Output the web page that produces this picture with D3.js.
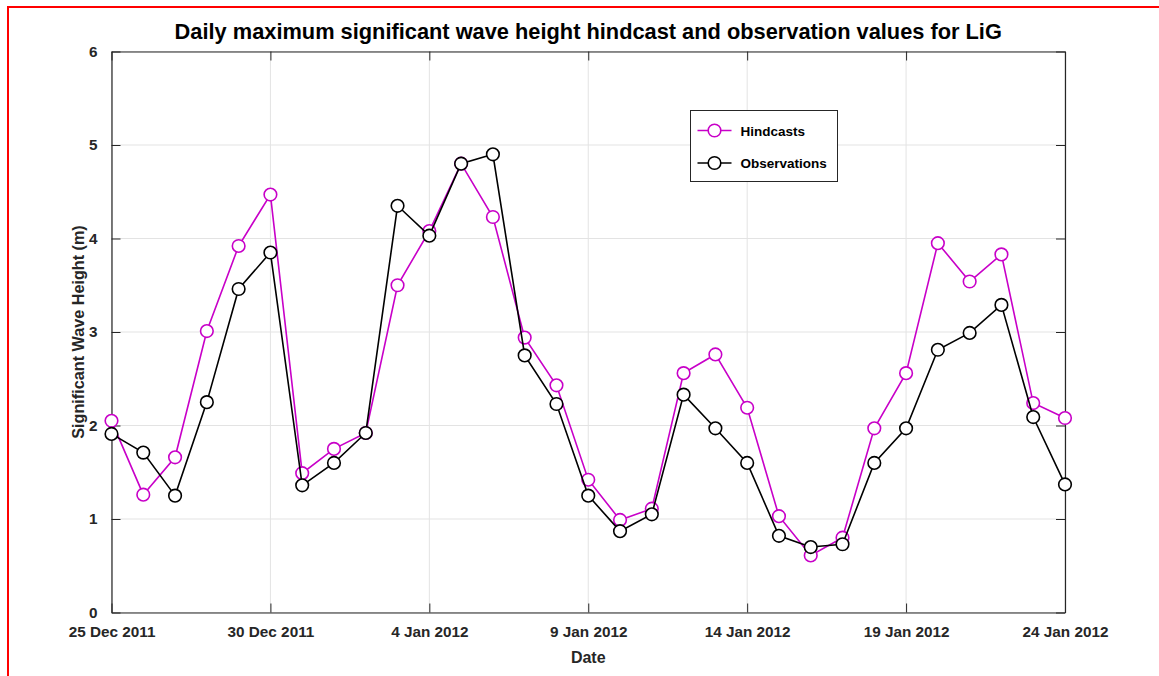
<!DOCTYPE html>
<html>
<head>
<meta charset="utf-8">
<script src="https://cdn.jsdelivr.net/npm/d3@7"></script>
<style>
  body { margin: 0; background: #fff; }
  svg { display: block; font-family: "Liberation Sans", Arial, Helvetica, sans-serif; }
  .axis text { font-size: 15.3px; font-weight: bold; fill: #262626; }
  .axis path, .axis line { stroke: #262626; }
</style>
</head>
<body>
<svg id="chart" width="1159" height="676"></svg>
<script>
// daily maxima, 25 Dec 2011 .. 24 Jan 2012
var startDate = new Date(2011, 11, 25);
var hindcasts = [2.05, 1.26, 1.66, 3.01, 3.92, 4.47, 1.49, 1.75, 1.92, 3.50,
                 4.08, 4.80, 4.23, 2.94, 2.43, 1.42, 0.99, 1.11, 2.56, 2.76,
                 2.19, 1.03, 0.61, 0.80, 1.97, 2.56, 3.95, 3.54, 3.83, 2.24, 2.08];
var observations = [1.91, 1.71, 1.25, 2.25, 3.46, 3.85, 1.36, 1.60, 1.92, 4.35,
                    4.03, 4.80, 4.90, 2.75, 2.23, 1.25, 0.87, 1.05, 2.33, 1.97,
                    1.60, 0.82, 0.70, 0.73, 1.60, 1.97, 2.81, 2.99, 3.29, 2.09, 1.37];
var seriesNames = ["Hindcasts", "Observations"];
var seriesColors = ["#c800c8", "#000000"];
var yTicks = [0, 1, 2, 3, 4, 5, 6];

var svg = d3.select("#chart");
var margin = {left: 111.5, right: 1065, top: 51.5, bottom: 612.5};

function dayOf(i) { return d3.timeDay.offset(startDate, i); }
var endDate = dayOf(hindcasts.length - 1);

var xScale = d3.scaleTime()
  .domain([startDate, endDate])
  .range([margin.left, margin.right]);

var yScale = d3.scaleLinear()
  .domain([0, 6])
  .range([margin.bottom, margin.top]);

// a tick every 5 days
var xTicks = d3.range(0, hindcasts.length, 5).map(dayOf);
var fmt = d3.timeFormat("%-d %b %Y");

// red outer frame
svg.append("rect")
  .attr("x", 8).attr("y", 7)
  .attr("width", 1200).attr("height", 700)
  .attr("fill", "none").attr("stroke", "#ff0000").attr("stroke-width", 2);

// grid
var grid = svg.append("g").attr("class", "grid");
grid.selectAll(".gx").data(xTicks).enter().append("line")
  .attr("x1", function(d) { return xScale(d); }).attr("x2", function(d) { return xScale(d); })
  .attr("y1", margin.top).attr("y2", margin.bottom)
  .attr("stroke", "#e3e3e3").attr("stroke-width", 1);
grid.selectAll(".gy").data(yTicks).enter().append("line")
  .attr("x1", margin.left).attr("x2", margin.right)
  .attr("y1", function(d) { return yScale(d); }).attr("y2", function(d) { return yScale(d); })
  .attr("stroke", "#e3e3e3").attr("stroke-width", 1);

// axes (MATLAB style: ticks inside, mirrored on top and right)
var tickLen = 9;
svg.append("g").attr("class", "axis")
  .attr("transform", "translate(0," + margin.bottom + ")")
  .call(d3.axisBottom(xScale).tickValues(xTicks).tickFormat(fmt).tickSizeInner(-tickLen).tickSizeOuter(0).tickPadding(14));
svg.append("g").attr("class", "axis")
  .attr("transform", "translate(0," + margin.top + ")")
  .call(d3.axisTop(xScale).tickValues(xTicks).tickFormat("").tickSizeInner(-tickLen).tickSizeOuter(0));
svg.append("g").attr("class", "axis")
  .attr("transform", "translate(" + margin.left + ",0)")
  .call(d3.axisLeft(yScale).tickValues(yTicks).tickFormat(d3.format("d")).tickSizeInner(-tickLen).tickSizeOuter(0).tickPadding(14));
svg.append("g").attr("class", "axis")
  .attr("transform", "translate(" + margin.right + ",0)")
  .call(d3.axisRight(yScale).tickValues(yTicks).tickFormat("").tickSizeInner(-tickLen).tickSizeOuter(0));
svg.selectAll(".axis path").attr("stroke-width", 1.2);

// lines + markers
var line = d3.line()
  .x(function(d, i) { return xScale(dayOf(i)); })
  .y(function(d) { return yScale(d); });

[hindcasts, observations].forEach(function(series, k) {
  var g = svg.append("g");
  g.append("path")
    .datum(series)
    .attr("d", line)
    .attr("fill", "none")
    .attr("stroke", seriesColors[k])
    .attr("stroke-width", 1.6);
  g.selectAll("circle").data(series).enter().append("circle")
    .attr("cx", function(d, i) { return xScale(dayOf(i)); })
    .attr("cy", function(d) { return yScale(d); })
    .attr("r", 6.3)
    .attr("fill", "#fff")
    .attr("stroke", seriesColors[k])
    .attr("stroke-width", 1.6);
});

// title and labels
svg.append("text")
  .attr("x", (margin.left + margin.right) / 2).attr("y", 39)
  .attr("text-anchor", "middle")
  .style("font-size", "21.8px").style("font-weight", "bold").attr("fill", "#000")
  .text("Daily maximum significant wave height hindcast and observation values for LiG");

svg.append("text")
  .attr("x", (margin.left + margin.right) / 2).attr("y", 663)
  .attr("text-anchor", "middle")
  .style("font-size", "16px").style("font-weight", "bold").attr("fill", "#262626")
  .text("Date");

svg.append("text")
  .attr("transform", "translate(84," + (margin.top + margin.bottom) / 2 + ") rotate(-90)")
  .attr("text-anchor", "middle")
  .style("font-size", "16.2px").style("font-weight", "bold").attr("fill", "#262626")
  .text("Significant Wave Height (m)");

// legend
var legend = svg.append("g").attr("transform", "translate(690.5,110.5)");
legend.append("rect")
  .attr("width", 147).attr("height", 71)
  .attr("fill", "#fff").attr("stroke", "#262626").attr("stroke-width", 1);
seriesNames.forEach(function(name, k) {
  var y = 20 + k * 32.5;
  legend.append("line")
    .attr("x1", 7).attr("x2", 41).attr("y1", y).attr("y2", y)
    .attr("stroke", seriesColors[k]).attr("stroke-width", 1.6);
  legend.append("circle")
    .attr("cx", 24).attr("cy", y).attr("r", 6.3)
    .attr("fill", "#fff").attr("stroke", seriesColors[k]).attr("stroke-width", 1.6);
  legend.append("text")
    .attr("x", 50).attr("y", y + 5)
    .style("font-size", "13.5px").style("font-weight", "bold").attr("fill", "#000")
    .text(name);
});
</script>
</body>
</html>
